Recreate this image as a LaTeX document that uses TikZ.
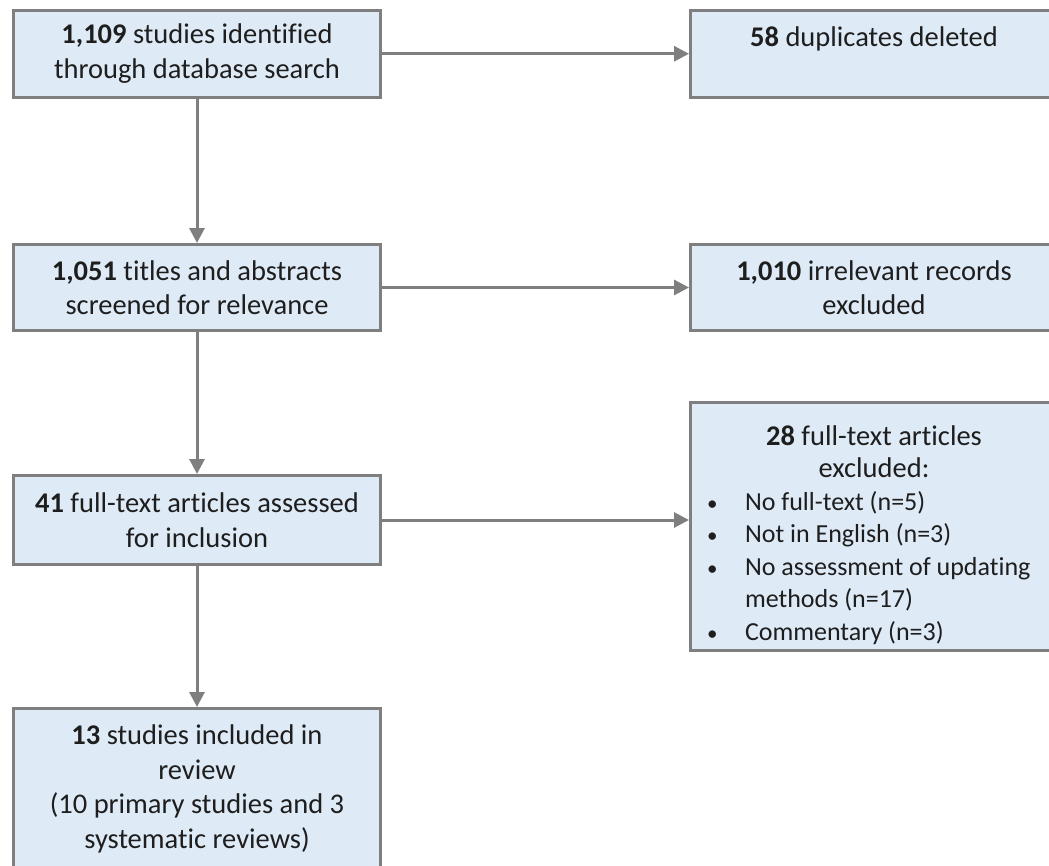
\documentclass[tikz,border=0pt]{standalone}
\usepackage{fontspec}
\setmainfont{Carlito}[Ligatures=NoCommon]
\usetikzlibrary{arrows.meta}
\definecolor{boxfill}{RGB}{222,234,246}
\definecolor{boxline}{RGB}{127,127,127}
\definecolor{txt}{RGB}{30,30,30}
\newcommand{\bul}{\makebox[51pt][l]{\hspace{13pt}{\fontsize{21pt}{21pt}\selectfont •}}}
\begin{document}
\begin{tikzpicture}[x=1pt,y=-1pt,
  box/.style={draw=boxline, fill=boxfill, line width=3pt, minimum width=367pt,
    inner sep=0pt, align=center, text=txt, font=\fontsize{28.5pt}{34.5pt}\selectfont},
  conn/.style={draw=boxline, line width=3pt, -{Triangle[length=15pt,width=15pt]}}]
\useasboundingbox (0,0) rectangle (1049,865);
\clip (0,0) rectangle (1049,865);
% left column
\node[box, minimum height=86.5pt] (b1) at (197,53.75) {\textbf{1,109} studies identified\\through database search};
\node[box, minimum height=86pt] (b2) at (197,287.5) {\textbf{1,051} titles and abstracts\\screened for relevance};
\node[box, minimum height=89pt] (b3) at (197,520) {\textbf{41} full-text articles assessed\\for inclusion};
\node[box, minimum height=161pt] (b4) at (197,789) {\textbf{13} studies included in\\review\\(10 primary studies and 3\\systematic reviews)};
% right column
\node[box, minimum height=86.5pt] (r1) at (874,53.75) {\textbf{58} duplicates deleted\\\mbox{}};
\node[box, minimum height=86pt] (r2) at (874,287.5) {\textbf{1,010} irrelevant records\\excluded};
\node[box, minimum height=248pt] (r3) at (874,526.5) {\fontsize{28.5pt}{32.5pt}\selectfont\parbox{360pt}{\vspace*{17pt}\centering
  \textbf{28} full-text articles\\excluded:\par
  \raggedright\fontsize{26pt}{32.5pt}\selectfont
  \mbox{\bul No full-text (n=5)}\\
  \mbox{\bul Not in English (n=3)}\\
  \mbox{\bul No assessment of updating}\\
  \mbox{\hspace*{51pt}methods (n=17)}\\
  \mbox{\bul Commentary (n=3)}}};
% connectors
\draw[conn] (b1) -- (b2);
\draw[conn] (b2) -- (b3);
\draw[conn] (b3) -- (b4);
\draw[conn] (b1.east) -- (r1.west);
\draw[conn] (b2.east) -- (r2.west);
\draw[conn] (b3.east) -- (b3.east -| r3.west);
\end{tikzpicture}
\end{document}
